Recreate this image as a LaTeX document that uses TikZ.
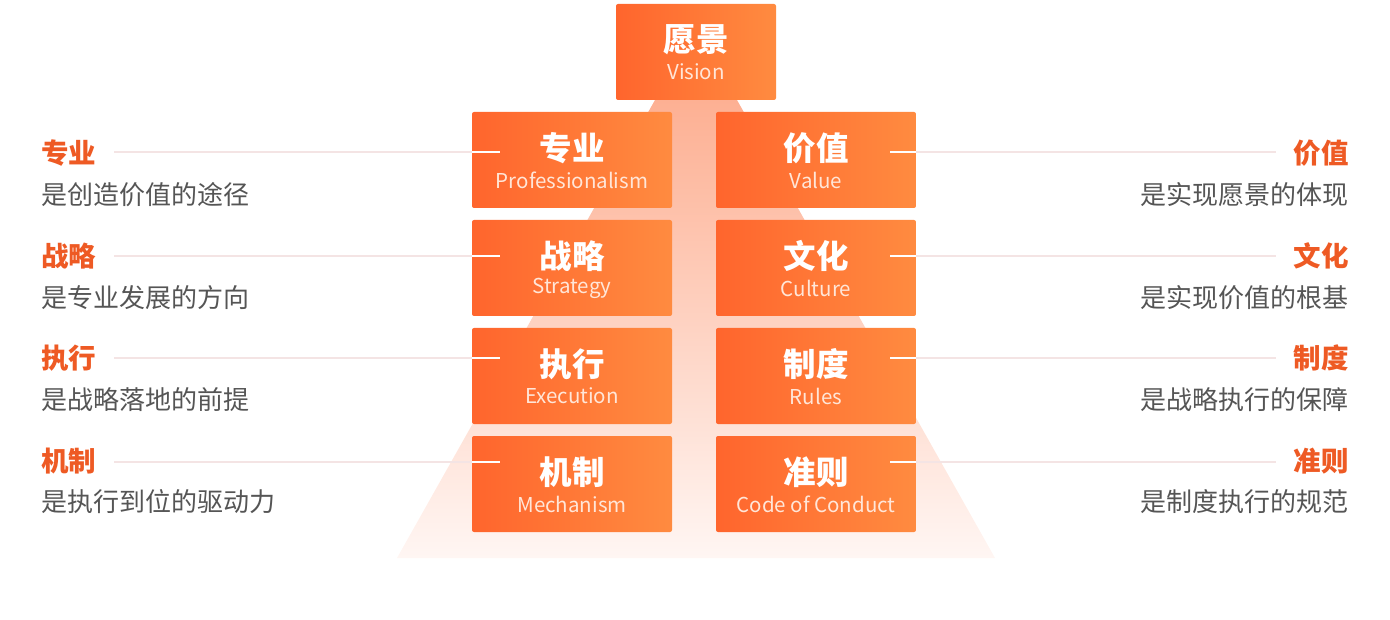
\documentclass[tikz,border=0pt]{standalone}
\usepackage{fontspec}
\setmainfont{Noto Sans CJK SC}
\definecolor{boxL}{HTML}{FF652D}
\definecolor{boxR}{HTML}{FF8B40}
\definecolor{ttl}{HTML}{EE5A24}
\definecolor{sub}{HTML}{555555}
\definecolor{triT}{HTML}{FDB093}
\definecolor{triB}{HTML}{FFF6F3}
\definecolor{lnk}{HTML}{F4E4E4}
\definecolor{ent}{HTML}{FFE6D8}
\tikzset{
  pbox/.style={minimum width=200pt,minimum height=96pt,inner sep=0pt,rounded corners=2pt,left color=boxL,right color=boxR,draw=none},
  cntx/.style={text=white,font=\fontsize{32.5}{32.5}\selectfont\bfseries,inner sep=0pt},
  entx/.style={text=ent,font=\fontsize{20.5}{20.5}\selectfont,inner sep=0pt},
  ltitle/.style={text=ttl,font=\fontsize{27.5}{27.5}\selectfont\bfseries,inner sep=0pt},
  lsub/.style={text=sub,font=\fontsize{26}{26}\selectfont,inner sep=0pt},
  lnkline/.style={draw=lnk,line width=1.6pt},
  wline/.style={draw=white,line width=1.6pt}
}
\newcommand\pyrbox[6][200pt]{%
  \node[pbox,minimum width=#1] (#2) at (#3,#4) {};
  \node[cntx] (#2c) at ([yshift=12pt]#2.center) {#5};
  \node[entx] (#2e) at ([yshift=-20pt]#2.center) {#6};
}
\begin{document}
\begin{tikzpicture}[x=1pt,y=-1pt]
\useasboundingbox (0,0) rectangle (1390,620);
% pyramid
\shade[top color=triT,bottom color=triB] (655,100) -- (737,100) -- (995,558) -- (397,558) -- cycle;
% vision
\pyrbox[160pt]{vis}{696}{52}{愿景}{Vision}
% boxes
\pyrbox{pro}{572}{160}{专业}{Professionalism}
\pyrbox{val}{816}{160}{价值}{Value}
\pyrbox{str}{572}{268}{战略}{Strategy}
\pyrbox{cul}{816}{268}{文化}{Culture}
\pyrbox{exe}{572}{376}{执行}{Execution}
\pyrbox{rul}{816}{376}{制度}{Rules}
\pyrbox{mec}{572}{484}{机制}{Mechanism}
\pyrbox{coc}{816}{484}{准则}{Code of Conduct}
% left labels
\node[ltitle,anchor=west] (lpro) at (41,153) {专业};
\node[lsub,anchor=west] (lpros) at (41,195) {是创造价值的途径};
\node[ltitle,anchor=west] (lstr) at (41,256) {战略};
\node[lsub,anchor=west] (lstrs) at (41,298) {是专业发展的方向};
\node[ltitle,anchor=west] (lexe) at (41,358) {执行};
\node[lsub,anchor=west] (lexes) at (41,400) {是战略落地的前提};
\node[ltitle,anchor=west] (lmec) at (41,461) {机制};
\node[lsub,anchor=west] (lmecs) at (41,502) {是执行到位的驱动力};
% right labels
\node[ltitle,anchor=east] (rval) at (1349,153) {价值};
\node[lsub,anchor=east] (rvals) at (1349,195) {是实现愿景的体现};
\node[ltitle,anchor=east] (rcul) at (1349,256) {文化};
\node[lsub,anchor=east] (rculs) at (1349,298) {是实现价值的根基};
\node[ltitle,anchor=east] (rrul) at (1349,358) {制度};
\node[lsub,anchor=east] (rruls) at (1349,400) {是战略执行的保障};
\node[ltitle,anchor=east] (rcoc) at (1349,461) {准则};
\node[lsub,anchor=east] (rcocs) at (1349,502) {是制度执行的规范};
% connectors left
\foreach \l/\b/\yy in {lpro/pro/152,lstr/str/256,lexe/exe/358,lmec/mec/462}{
  \coordinate (\b W) at (\b.west |- 0,\yy);
  \draw[lnkline] ([xshift=18pt]\l.east |- 0,\yy) -- (\b W);
  \draw[wline] (\b W) -- ++(28,0);
}
% connectors right
\foreach \l/\b/\yy in {rval/val/152,rcul/cul/256,rrul/rul/358,rcoc/coc/462}{
  \coordinate (\b E) at (\b.east |- 0,\yy);
  \draw[lnkline] ([xshift=-18pt]\l.west |- 0,\yy) -- (\b E);
  \draw[wline] (\b E) -- ++(-26,0);
}
\end{tikzpicture}
\end{document}
